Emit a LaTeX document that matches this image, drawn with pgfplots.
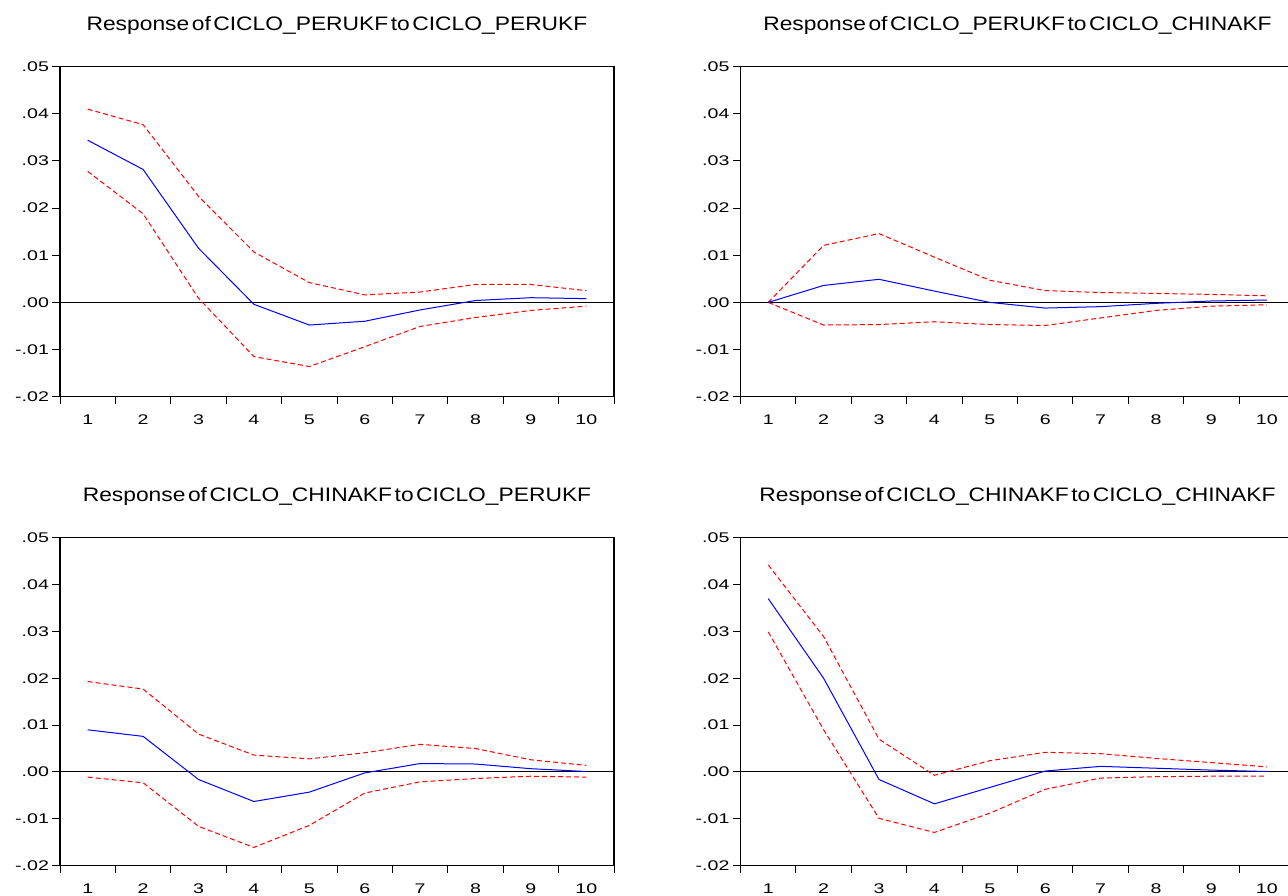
\documentclass[border=0pt]{standalone}
\usepackage{fontspec}
\setmainfont{Liberation Sans}[FakeStretch=1.4]
\newfontfamily\titlefont{Liberation Sans}[FakeStretch=1.17, WordSpace=0.4]
\usepackage{pgfplots}
\usepackage{pgfplotstable}
\pgfplotsset{compat=1.18}

\pgfplotstableread{
t resp lo hi
1 0.0344 0.0278 0.0410
2 0.0282 0.0188 0.0377
3 0.0115 0.0009 0.0225
4 -0.0004 -0.0115 0.0107
5 -0.0048 -0.0136 0.0042
6 -0.0040 -0.0094 0.0016
7 -0.0016 -0.0051 0.0022
8 0.0004 -0.0032 0.0038
9 0.0010 -0.0017 0.0038
10 0.0008 -0.0008 0.0025
}\pone
\pgfplotstableread{
t resp lo hi
1 0 0 0
2 0.0036 -0.0048 0.0121
3 0.0049 -0.0047 0.0146
4 0.0024 -0.0041 0.0096
5 0.0000 -0.0047 0.0047
6 -0.0012 -0.0049 0.0025
7 -0.0009 -0.0033 0.0021
8 -0.0002 -0.0017 0.0019
9 0.0003 -0.0008 0.0017
10 0.0005 -0.0005 0.0014
}\ptwo
\pgfplotstableread{
t resp lo hi
1 0.0090 -0.0011 0.0193
2 0.0076 -0.0023 0.0177
3 -0.0016 -0.0116 0.0081
4 -0.0063 -0.0161 0.0036
5 -0.0043 -0.0114 0.0028
6 -0.0002 -0.0045 0.0041
7 0.0018 -0.0021 0.0059
8 0.0017 -0.0014 0.0050
9 0.0007 -0.0009 0.0026
10 0.0001 -0.0011 0.0014
}\pthree
\pgfplotstableread{
t resp lo hi
1 0.0370 0.0299 0.0442
2 0.0200 0.0090 0.0289
3 -0.0016 -0.0099 0.0070
4 -0.0068 -0.0129 -0.0007
5 -0.0033 -0.0088 0.0024
6 0.0002 -0.0037 0.0042
7 0.0012 -0.0013 0.0039
8 0.0008 -0.0010 0.0029
9 0.0004 -0.0009 0.0020
10 0.0001 -0.0009 0.0011
}\pfour

\pgfplotsset{
  irf/.style={
    scale only axis, width=554pt, height=#1,
    xmin=0.5, xmax=10.5, ymin=-0.02, ymax=0.05,
    axis line style={line width=1.4pt, black},
    xtick={1,...,10},
    xticklabels={1,2,3,4,5,6,7,8,9,10},
    minor xtick={0.5,1.5,...,10.5},
    every major x tick/.append style={draw=none},
    ytick={-0.02,-0.01,0,0.01,0.02,0.03,0.04,0.05},
    yticklabels={-.02,-.01,.00,.01,.02,.03,.04,.05},
    scaled y ticks=false,
    tick align=outside, xtick pos=bottom, ytick pos=left,
    major tick length=7.5pt, minor tick length=7.5pt,
    tick style={line width=1pt, black},
    ticklabel style={font=\fontsize{14}{16}\selectfont, text=black},
    xticklabel style={yshift=-7pt},
    title style={font=\titlefont\fontsize{19.5}{21}\selectfont, at={(0.5,1)}, anchor=base, yshift=30pt},
  },
  resp/.style={blue, line width=1pt},
  band/.style={red, line width=1pt, dash pattern=on 5pt off 3pt},
}

\begin{document}
\begin{tikzpicture}
\begin{axis}[irf=330pt, at={(60pt,499.3pt)}, anchor=south west,
  title={Response of CICLO\_PERUKF to CICLO\_PERUKF}]
\addplot[black, line width=1pt, forget plot] coordinates {(0.5,0) (10.5,0)};
\addplot[band] table[x=t,y=hi]{\pone};
\addplot[band] table[x=t,y=lo]{\pone};
\addplot[resp] table[x=t,y=resp]{\pone};
\end{axis}
\begin{axis}[irf=330pt, at={(740.5pt,499.3pt)}, anchor=south west,
  title={Response of CICLO\_PERUKF to CICLO\_CHINAKF}]
\addplot[black, line width=1pt, forget plot] coordinates {(0.5,0) (10.5,0)};
\addplot[band] table[x=t,y=hi]{\ptwo};
\addplot[band] table[x=t,y=lo]{\ptwo};
\addplot[resp] table[x=t,y=resp]{\ptwo};
\end{axis}
\begin{axis}[irf=328pt, at={(60pt,30.3pt)}, anchor=south west,
  title={Response of CICLO\_CHINAKF to CICLO\_PERUKF}]
\addplot[black, line width=1pt, forget plot] coordinates {(0.5,0) (10.5,0)};
\addplot[band] table[x=t,y=hi]{\pthree};
\addplot[band] table[x=t,y=lo]{\pthree};
\addplot[resp] table[x=t,y=resp]{\pthree};
\end{axis}
\begin{axis}[irf=328pt, at={(740.5pt,30.3pt)}, anchor=south west,
  title={Response of CICLO\_CHINAKF to CICLO\_CHINAKF}]
\addplot[black, line width=1pt, forget plot] coordinates {(0.5,0) (10.5,0)};
\addplot[band] table[x=t,y=hi]{\pfour};
\addplot[band] table[x=t,y=lo]{\pfour};
\addplot[resp] table[x=t,y=resp]{\pfour};
\end{axis}
\pgfresetboundingbox
\useasboundingbox (0pt,0pt) rectangle (1288pt,896pt);
\end{tikzpicture}
\end{document}
